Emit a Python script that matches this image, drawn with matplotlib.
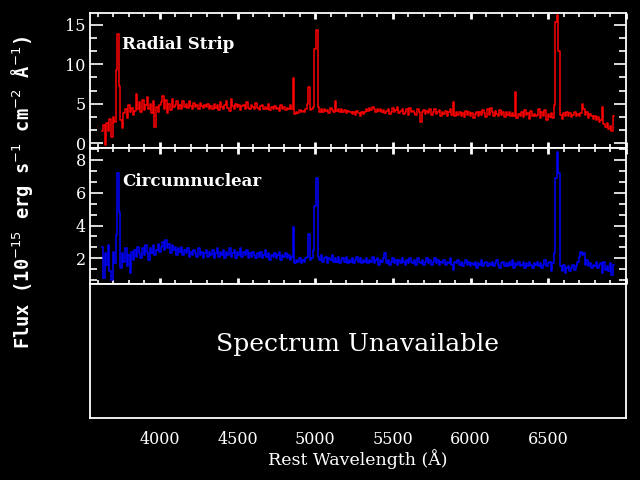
import numpy as np
import matplotlib
matplotlib.use('Agg')
import matplotlib.pyplot as plt
from matplotlib.ticker import MultipleLocator, AutoMinorLocator

# wavelength grid of the spectra (Angstrom), 10 A bins
wave = np.arange(3630, 6930, 10)

# Radial strip flux (1e-15 erg/s/cm2/A), one row per 100 A
radial = [
    1.6, 2.3, -0.2, 2.6, 1.5, 3.1, 0.8, 3.3, 2.7, 9.3,
    13.8, 7.2, 3.0, 1.9, 3.8, 4.4, 3.2, 4.8, 3.9, 4.5,
    3.6, 4.1, 6.3, 4.4, 5.2, 3.9, 5.5, 4.2, 4.8, 5.9,
    4.3, 5.0, 3.8, 5.4, 2.1, 4.6, 3.9, 4.8, 5.2, 6.0,
    4.4, 5.5, 3.8, 5.0, 4.2, 5.6, 4.6, 4.9, 5.3, 4.4,
    4.9, 4.3, 5.4, 4.6, 5.0, 4.5, 5.3, 4.7, 4.4, 5.1,
    4.6, 4.9, 4.3, 5.1, 4.7, 4.5, 4.9, 4.6, 5.0, 4.4,
    4.7, 4.3, 5.0, 4.5, 4.8, 4.2, 5.2, 4.6, 4.4, 4.9,
    5.3, 4.5, 4.1, 5.6, 4.7, 4.3, 5.0, 4.6, 4.8, 4.2,
    4.7, 4.9, 4.4, 5.2, 4.5, 4.3, 4.8, 4.6, 4.4, 5.1,
    4.5, 4.2, 4.7, 4.9, 4.3, 4.6, 4.4, 5.0, 4.2, 4.6,
    4.4, 4.7, 4.3, 4.5, 4.1, 4.8, 4.4, 4.6, 4.2, 4.5,
    4.3, 4.9, 4.4, 8.3, 3.7, 4.0, 3.8, 4.2, 3.9, 4.1,
    4.0, 4.3, 5.0, 7.1, 4.2, 4.4, 4.6, 12.0, 14.4, 4.6,
    4.0, 4.3, 3.9, 4.4, 4.1, 4.2, 3.8, 4.5, 4.2, 4.0,
    5.3, 4.1, 4.3, 3.9, 4.4, 4.0, 4.2, 3.8, 4.1, 3.9,
    4.0, 3.7, 3.9, 3.6, 4.1, 3.8, 3.5, 3.9, 3.7, 4.0,
    4.4, 4.1, 4.5, 4.2, 4.6, 4.3, 4.0, 4.4, 4.1, 4.3,
    3.9, 4.2, 3.8, 4.1, 4.3, 3.7, 4.0, 4.5, 3.9, 4.2,
    4.6, 3.8, 4.1, 4.4, 3.7, 4.0, 4.3, 3.6, 4.5, 3.9,
    4.1, 3.8, 3.6, 4.4, 4.0, 2.7, 3.9, 4.2, 3.7, 4.1,
    3.8, 4.3, 3.6, 4.0, 4.4, 3.7, 3.9, 4.2, 3.5, 4.0,
    3.7, 4.1, 3.5, 3.9, 4.3, 3.6, 5.2, 3.4, 3.9, 3.6,
    4.0, 3.5, 3.8, 3.3, 4.1, 3.6, 3.9, 3.4, 3.8, 3.2,
    3.7, 4.0, 3.5, 3.9, 3.6, 4.2, 3.8, 3.3, 4.4, 3.6,
    4.5, 3.9, 3.4, 4.1, 3.7, 3.5, 4.2, 3.6, 3.9, 3.3,
    4.0, 3.6, 3.9, 3.4, 3.8, 3.5, 6.5, 3.2, 3.7, 3.5,
    3.9, 3.3, 4.2, 3.6, 3.8, 3.1, 4.1, 3.5, 3.7, 3.4,
    3.6, 4.3, 3.2, 3.9, 3.4, 4.2, 3.0, 3.7, 3.3, 3.8,
    3.2, 4.9, 15.3, 16.3, 11.7, 3.6, 3.1, 3.8, 3.4, 3.9,
    3.5, 3.8, 3.3, 3.6, 3.9, 3.4, 3.7, 3.5, 3.8, 5.0,
    4.3, 3.6, 3.9, 3.2, 3.7, 3.4, 3.1, 3.5, 2.9, 3.3,
    2.7, 3.0, 4.6, 2.4, 2.0, 2.6, 1.8, 2.2, 1.6, 3.4,
]

# Circumnuclear flux
circum = [
    2.7, 0.8, 2.3, 1.6, 2.8, 1.2, 0.7, 2.4, 1.7, 3.4,
    7.2, 4.8, 1.4, 2.3, 1.8, 2.6, 1.5, 2.2, 1.1, 2.4,
    1.9, 2.5, 2.1, 2.7, 2.3, 2.0, 2.6, 2.2, 2.8, 2.4,
    1.9, 2.6, 2.3, 2.8, 2.2, 2.5, 2.9, 2.4, 2.7, 3.0,
    2.5, 3.1, 2.6, 2.9, 2.3, 2.8, 2.5, 2.7, 2.2, 2.6,
    2.4, 2.7, 2.2, 2.5, 2.3, 2.6, 2.1, 2.4, 2.2, 2.5,
    2.3, 2.1, 2.6, 2.2, 2.4, 2.0, 2.3, 2.5, 2.1, 2.4,
    2.2, 2.5, 2.0, 2.3, 2.6, 2.1, 2.4, 2.2, 2.5, 2.0,
    2.4, 2.2, 2.6, 2.1, 2.3, 2.5, 2.0, 2.4, 2.2, 2.6,
    2.1, 2.4, 2.2, 2.5, 2.0, 2.3, 2.1, 2.4, 2.2, 2.0,
    2.3, 2.1, 2.4, 2.0, 2.2, 2.5, 2.1, 2.3, 1.9, 2.2,
    2.1, 2.3, 2.0, 2.2, 2.4, 1.9, 2.2, 2.1, 2.3, 2.0,
    2.2, 1.9, 2.1, 3.9, 1.7, 1.9, 1.8, 2.0, 1.7, 1.9,
    1.8, 2.0, 2.1, 3.5, 1.9, 2.0, 2.5, 5.2, 6.9, 2.1,
    1.9, 2.2, 1.8, 2.0, 2.1, 1.7, 2.0, 1.9, 2.2, 1.8,
    2.0, 1.8, 2.1, 1.7, 1.9, 2.0, 1.8, 2.1, 1.7, 1.9,
    1.8, 2.0, 1.7, 1.9, 2.1, 1.8, 2.0, 1.7, 1.9, 1.8,
    2.0, 1.7, 1.9, 1.8, 2.1, 1.7, 1.9, 2.0, 1.6, 1.9,
    1.8, 2.0, 2.3, 1.7, 1.9, 1.6, 1.8, 2.0, 1.7, 1.9,
    1.6, 1.9, 1.7, 2.0, 1.8, 1.6, 1.9, 1.7, 2.0, 1.8,
    1.7, 1.9, 1.6, 2.0, 1.8, 1.7, 1.9, 1.6, 1.8, 2.0,
    1.7, 1.9, 1.6, 1.8, 2.0, 1.7, 1.9, 1.6, 1.8, 1.7,
    1.9, 1.6, 1.8, 1.7, 2.0, 1.6, 1.3, 1.8, 1.7, 1.9,
    1.6, 1.8, 1.5, 1.7, 1.9, 1.6, 1.8, 1.5, 1.7, 1.6,
    1.8, 1.4, 1.7, 1.6, 1.9, 1.5, 1.7, 1.8, 1.5, 1.7,
    1.6, 1.8, 1.5, 1.7, 1.9, 1.6, 1.4, 1.7, 1.8, 1.5,
    1.7, 1.5, 1.8, 1.6, 1.9, 1.4, 1.7, 1.6, 1.8, 1.5,
    1.6, 1.8, 1.4, 1.7, 1.5, 1.8, 1.6, 1.4, 1.7, 1.6,
    1.8, 1.5, 1.7, 1.4, 1.6, 1.9, 1.5, 1.7, 1.8, 1.2,
    1.7, 2.3, 6.9, 8.5, 7.2, 1.5, 1.2, 1.6, 1.1, 1.4,
    1.5, 1.2, 1.4, 1.6, 1.3, 1.5, 1.8, 2.1, 2.4, 2.2,
    2.3, 1.6, 1.9, 1.5, 1.7, 1.4, 1.6, 1.5, 1.8, 1.4,
    1.6, 1.7, 1.1, 1.8, 1.3, 1.5, 1.2, 1.7, 1.0, 1.6,
]

xticks = [4000, 4500, 5000, 5500, 6000, 6500]

serif = 'DejaVu Serif'
plt.rcParams['font.family'] = serif

fig = plt.figure(figsize=(6.4, 4.8), dpi=100, facecolor='black')
left, width = 90 / 640, 536 / 640
ax1 = fig.add_axes([left, 1 - 148 / 480, width, 135 / 480])
ax2 = fig.add_axes([left, 1 - 284 / 480, width, 136 / 480])
ax3 = fig.add_axes([left, 1 - 418 / 480, width, 134 / 480])


def style(ax):
    ax.set_facecolor('black')
    for s in ax.spines.values():
        s.set_color('white')
        s.set_linewidth(1.3)
    ax.set_xlim(3550, 7000)


for ax in (ax1, ax2):
    style(ax)
    ax.xaxis.set_major_locator(MultipleLocator(500))
    ax.xaxis.set_minor_locator(MultipleLocator(100))
    ax.yaxis.set_minor_locator(AutoMinorLocator(3))
    ax.tick_params(axis='x', which='both', direction='in', top=True,
                   bottom=True, labelbottom=False, colors='white')
    ax.tick_params(axis='x', which='major', length=4, width=2)
    ax.tick_params(axis='x', which='minor', length=3, width=1.2)
    ax.tick_params(axis='y', which='both', direction='in', left=True,
                   right=True, colors='white', labelsize=11.5, pad=3)
    ax.tick_params(axis='y', which='major', length=9, width=1.2)
    ax.tick_params(axis='y', which='minor', length=5, width=1.2)

ax1.plot(wave, radial, color='#ff0000', lw=1.1, drawstyle='steps-mid')
ax1.set_ylim(-0.6, 16.5)
ax1.set_yticks([0, 5, 10, 15])
ax1.text(0.06, 0.763, 'Radial Strip', transform=ax1.transAxes, color='white',
         fontsize=12, fontweight='bold', va='center')

ax2.plot(wave, circum, color='#0000ff', lw=1.1, drawstyle='steps-mid')
ax2.set_ylim(0.43, 8.73)
ax2.set_yticks([2, 4, 6, 8])
ax2.text(0.06, 0.757, 'Circumnuclear', transform=ax2.transAxes, color='white',
         fontsize=12, fontweight='bold', va='center')

style(ax3)
ax3.set_ylim(0, 1)
ax3.set_yticks([])
ax3.set_xticks(xticks)
ax3.tick_params(axis='x', length=0, pad=9.5, colors='white', labelsize=11.5)
ax3.text(0.5, 0.552, 'Spectrum Unavailable', transform=ax3.transAxes,
         color='white', fontsize=18, ha='center', va='center')
ax3.set_xlabel('Rest Wavelength (Å)', color='white', fontsize=12.5, labelpad=1)

fig.text(22 / 640, 1 - 192 / 480,
         'Flux (10$^{-15}$ erg s$^{-1}$ cm$^{-2}$ Å$^{-1}$)',
         rotation=90, color='white', fontsize=13.5, fontweight='bold',
         family='DejaVu Sans Mono', ha='center', va='center')

fig.savefig('out.png', dpi=100, facecolor='black')
